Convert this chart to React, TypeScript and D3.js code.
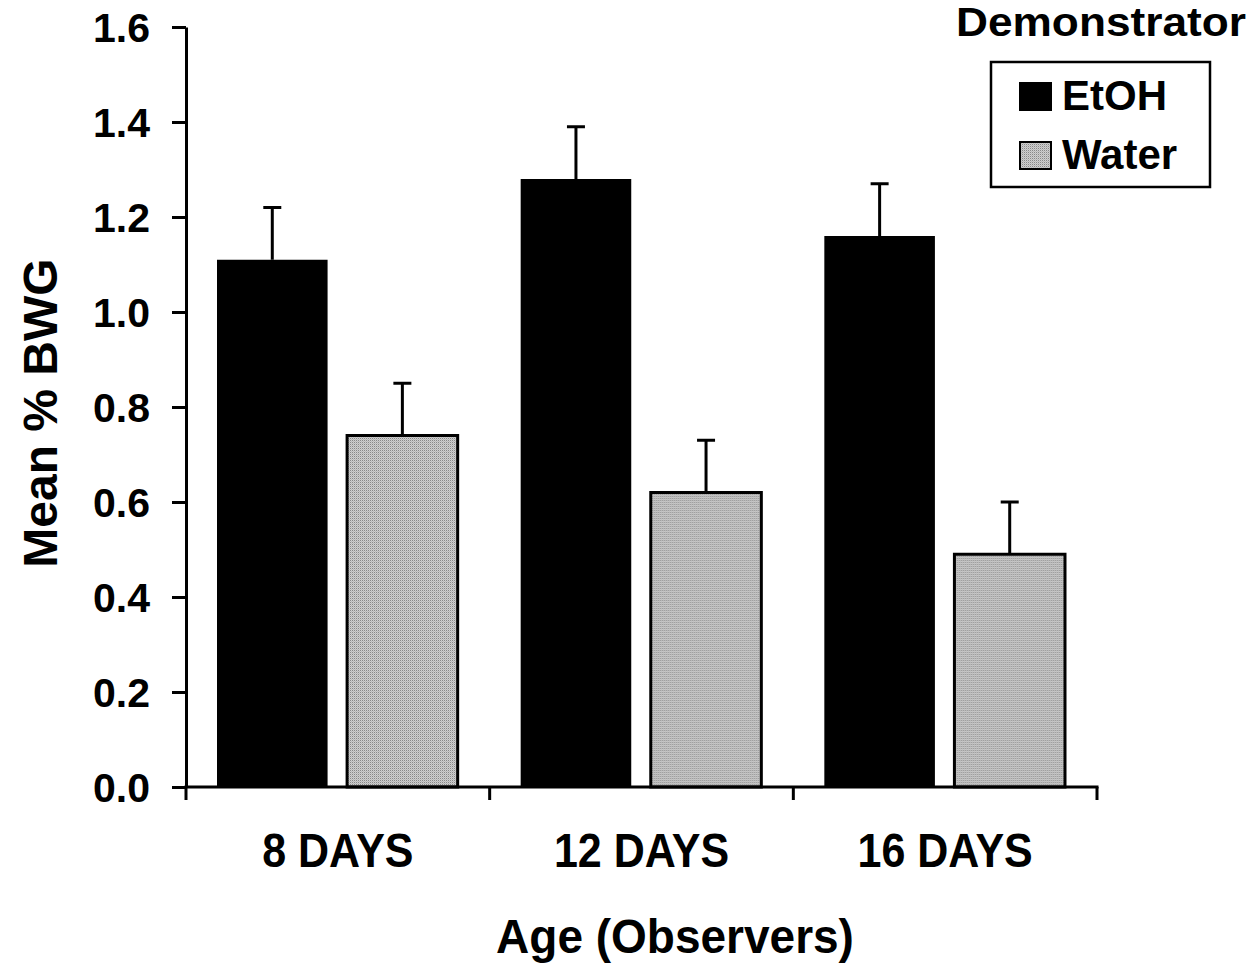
import { useEffect, useRef } from "react";
import * as d3 from "d3";

const ages = ["8 DAYS", "12 DAYS", "16 DAYS"];
const groups = ["EtOH", "Water"];
const etohMeans = [1.11, 1.28, 1.16];
const waterMeans = [0.74, 0.62, 0.49];
const etohSem = [0.11, 0.11, 0.11];
const waterSem = [0.11, 0.11, 0.11];
const yTicks = [0, 0.2, 0.4, 0.6, 0.8, 1.0, 1.2, 1.4, 1.6];

const W = 1252;
const H = 963;
const left = 186;
const right = 1097;
const top = 27;
const bottom = 787;
const font = "'Liberation Sans', Arial, sans-serif";

function App() {
    const svgRef = useRef<SVGSVGElement>(null);

    useEffect(() => {
        const svg = d3.select(svgRef.current);
        svg.selectAll("*").remove();

        // stipple for the water bars
        const defs = svg.append("defs");
        const pat = defs
            .append("pattern")
            .attr("id", "stipple")
            .attr("width", 2)
            .attr("height", 2)
            .attr("patternUnits", "userSpaceOnUse");
        pat.append("rect").attr("width", 2).attr("height", 2).attr("fill", "#cfcfcf");
        pat.append("rect").attr("width", 1).attr("height", 1).attr("fill", "#888");
        pat.append("rect").attr("x", 1).attr("y", 1).attr("width", 1).attr("height", 1).attr("fill", "#b8b8b8");

        const x0 = d3.scaleBand().domain(ages).range([left, right]).padding(0);
        const x1 = d3
            .scaleBand()
            .domain(groups)
            .range([31, x0.bandwidth() - 32])
            .paddingInner(0.15);
        const y = d3.scaleLinear().domain([0, 1.6]).range([bottom, top]);

        const rows = ages.map((a, i) => ({
            age: a,
            vals: [
                { g: "EtOH", v: etohMeans[i], e: etohSem[i] },
                { g: "Water", v: waterMeans[i], e: waterSem[i] },
            ],
        }));

        // ####################### bars #######################
        const gg = svg
            .append("g")
            .selectAll("g")
            .data(rows)
            .enter()
            .append("g")
            .attr("transform", (d) => `translate(${x0(d.age)},0)`);

        // error bars first, so the bar covers the stem bottom
        gg.selectAll(".err")
            .data((d) => d.vals)
            .enter()
            .append("g")
            .each(function (d) {
                const cx = (x1(d.g) as number) + x1.bandwidth() / 2;
                const s = d3.select(this);
                s.append("line")
                    .attr("x1", cx)
                    .attr("x2", cx)
                    .attr("y1", y(d.v))
                    .attr("y2", y(d.v + d.e))
                    .attr("stroke", "#000")
                    .attr("stroke-width", 3);
                s.append("line")
                    .attr("x1", cx - 9)
                    .attr("x2", cx + 9)
                    .attr("y1", y(d.v + d.e))
                    .attr("y2", y(d.v + d.e))
                    .attr("stroke", "#000")
                    .attr("stroke-width", 3);
            });

        gg.selectAll(".bar")
            .data((d) => d.vals)
            .enter()
            .append("rect")
            .attr("x", (d) => x1(d.g) as number)
            .attr("width", x1.bandwidth())
            .attr("y", (d) => y(d.v))
            .attr("height", (d) => bottom - y(d.v))
            .attr("fill", (d) => (d.g === "EtOH" ? "#000" : "url(#stipple)"))
            .attr("stroke", (d) => (d.g === "EtOH" ? "none" : "#000"))
            .attr("stroke-width", 3);

        // ####################### y axis #######################
        const ya = svg
            .append("g")
            .attr("transform", `translate(${left},0)`)
            .call(
                d3
                    .axisLeft(y)
                    .tickValues(yTicks)
                    .tickFormat(d3.format(".1f"))
                    .tickSize(14)
                    .tickSizeOuter(0)
                    .tickPadding(22)
            );
        ya.selectAll("path, line").attr("stroke", "#000").attr("stroke-width", 3);
        ya.selectAll("text")
            .attr("font-family", font)
            .attr("font-weight", "bold")
            .attr("font-size", 41)
            .attr("fill", "#000")
            .attr("dy", "0.35em");

        // ####################### x axis #######################
        const xa = svg.append("g");
        xa.append("line")
            .attr("x1", left - 1.5)
            .attr("x2", right + 1.5)
            .attr("y1", bottom)
            .attr("y2", bottom)
            .attr("stroke", "#000")
            .attr("stroke-width", 3);
        const edges = ages.map((a) => x0(a) as number).concat([right]);
        xa.selectAll(".tick")
            .data(edges)
            .enter()
            .append("line")
            .attr("x1", (d) => d)
            .attr("x2", (d) => d)
            .attr("y1", bottom)
            .attr("y2", bottom + 13)
            .attr("stroke", "#000")
            .attr("stroke-width", 3);
        xa.selectAll(".lbl")
            .data(ages)
            .enter()
            .append("text")
            .attr(
                "transform",
                (d) => `translate(${(x0(d) as number) + x0.bandwidth() / 2},867) scale(1,1.1)`
            )
            .attr("text-anchor", "middle")
            .attr("font-family", font)
            .attr("font-weight", "bold")
            .attr("font-size", 43)
            .text((d) => d);

        // ####################### titles #######################
        svg.append("text")
            .attr("transform", "translate(675,953) scale(1,1.05)")
            .attr("text-anchor", "middle")
            .attr("font-family", font)
            .attr("font-weight", "bold")
            .attr("font-size", 46)
            .text("Age (Observers)");

        svg.append("text")
            .attr("transform", "translate(57,413) rotate(-90)")
            .attr("text-anchor", "middle")
            .attr("font-family", font)
            .attr("font-weight", "bold")
            .attr("font-size", 48)
            .text("Mean % BWG");

        // ####################### legend #######################
        svg.append("text")
            .attr("x", 1246)
            .attr("y", 36)
            .attr("text-anchor", "end")
            .attr("font-family", font)
            .attr("font-weight", "bold")
            .attr("font-size", 40)
            .attr("textLength", 290)
            .attr("lengthAdjust", "spacingAndGlyphs")
            .text("Demonstrator");

        const lg = svg.append("g");
        lg.append("rect")
            .attr("x", 991)
            .attr("y", 62)
            .attr("width", 219)
            .attr("height", 125)
            .attr("fill", "#fff")
            .attr("stroke", "#000")
            .attr("stroke-width", 2.5);
        const items = lg
            .selectAll(".item")
            .data(groups)
            .enter()
            .append("g")
            .attr("transform", (d, i) => `translate(1020,${83 + i * 59})`);
        items
            .append("rect")
            .attr("width", 31)
            .attr("height", 27)
            .attr("fill", (d) => (d === "EtOH" ? "#000" : "url(#stipple)"))
            .attr("stroke", "#000")
            .attr("stroke-width", 2);
        items
            .append("text")
            .attr("x", 42)
            .attr("y", 27)
            .attr("font-family", font)
            .attr("font-weight", "bold")
            .attr("font-size", 42)
            .text((d) => d);
    }, []);

    return (
        <svg
            ref={svgRef}
            width={W}
            height={H}
            style={{ position: "absolute", left: 0, top: 0, background: "#fff" }}
        ></svg>
    );
}

export default App;
